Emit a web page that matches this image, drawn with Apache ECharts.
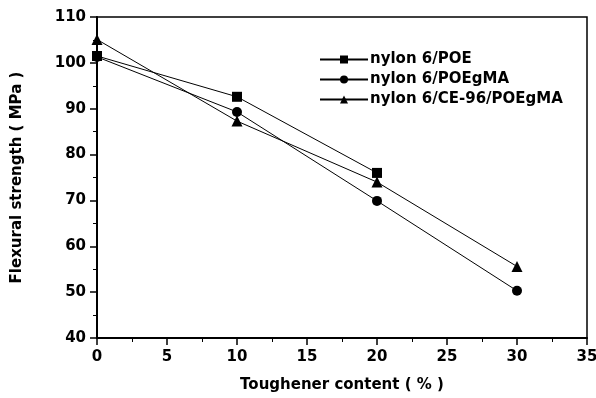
<!DOCTYPE html>
<html>
<head>
<meta charset="utf-8">
<script src="https://cdn.jsdelivr.net/npm/echarts@6/dist/echarts.min.js"></script>
<style>
  html, body { margin: 0; padding: 0; background: #fff; }
  #chart { width: 596px; height: 398px; }
</style>
</head>
<body>
<div id="chart"></div>
<script>
// toughener content (%) and flexural strength (MPa)
const content = [0, 10, 20, 30]
const poe = [101.5, 92.6, 76.0]
const poeGma = [101.3, 89.3, 69.9, 50.3]
const ce96PoeGma = [105.1, 87.3, 74.0, 55.6]
const seriesNames = ['nylon 6/POE', 'nylon 6/POEgMA', 'nylon 6/CE-96/POEgMA']

const FONT = 'DejaVu Sans'

function pairs(values) {
  return values.map((v, i) => [content[i], v])
}

const chart = echarts.init(document.getElementById('chart'), null, { renderer: 'canvas' })

const lineSeries = [
  { name: seriesNames[0], symbol: 'rect', symbolSize: 10, data: pairs(poe) },
  { name: seriesNames[1], symbol: 'circle', symbolSize: 10, data: pairs(poeGma) },
  { name: seriesNames[2], symbol: 'triangle', symbolSize: 11, data: pairs(ce96PoeGma) },
].map(s => ({
  ...s,
  type: 'line',
  showSymbol: true,
  lineStyle: { color: '#000', width: 1 },
  itemStyle: { color: '#000' },
}))

chart.setOption({
  backgroundColor: '#fff',
  animation: false,
  grid: {
    left: 97, right: 9, top: 17, bottom: 60,
    outerBoundsMode: 'none',
    show: true, borderColor: '#000', borderWidth: 1.5,
  },
  legend: {
    orient: 'vertical',
    left: 314,
    top: 47,
    itemWidth: 48,
    itemHeight: 10,
    itemGap: 5,
    data: seriesNames,
    textStyle: { color: '#000', fontFamily: FONT, fontWeight: 'bold', fontSize: 15, padding: [0, 0, 0, -3] },
  },
  xAxis: {
    type: 'value',
    min: 0, max: 35, interval: 5,
    name: 'Toughener content ( % )',
    nameLocation: 'middle',
    nameGap: 40,
    nameTextStyle: { color: '#000', fontFamily: FONT, fontWeight: 'bold', fontSize: 15 },
    axisLine: { show: true, lineStyle: { color: '#000', width: 2 } },
    axisTick: { show: true, length: 7, lineStyle: { color: '#000', width: 1.5 } },
    minorTick: { show: true, splitNumber: 2, length: 4, lineStyle: { color: '#000', width: 1 } },
    axisLabel: { color: '#000', fontFamily: FONT, fontWeight: 'bold', fontSize: 15, margin: 12 },
    splitLine: { show: false },
  },
  yAxis: {
    type: 'value',
    min: 40, max: 110, interval: 10,
    name: 'Flexural strength ( MPa )',
    nameLocation: 'middle',
    nameGap: 72,
    nameTextStyle: { color: '#000', fontFamily: FONT, fontWeight: 'bold', fontSize: 15 },
    axisLine: { show: true, lineStyle: { color: '#000', width: 2 } },
    axisTick: { show: true, length: 7, lineStyle: { color: '#000', width: 1.5 } },
    minorTick: { show: true, splitNumber: 2, length: 4, lineStyle: { color: '#000', width: 1 } },
    axisLabel: { color: '#000', fontFamily: FONT, fontWeight: 'bold', fontSize: 15, margin: 11 },
    splitLine: { show: false },
  },
  series: lineSeries,
})
</script>
</body>
</html>
